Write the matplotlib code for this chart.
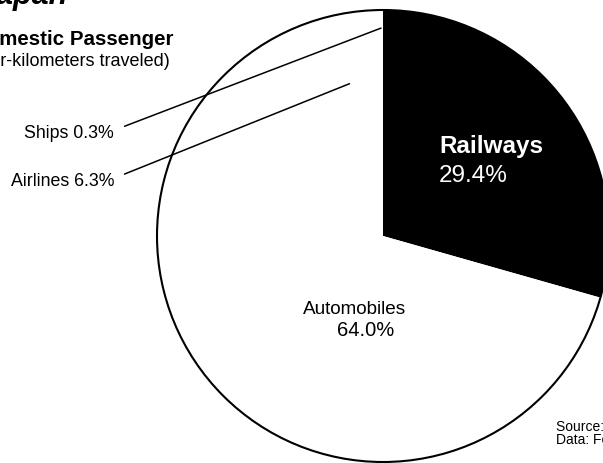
import matplotlib.pyplot as plt
import numpy as np

plt.rcParams['font.family'] = ['Liberation Sans', 'DejaVu Sans']

# modal share of domestic passenger transport, clockwise from 12 o'clock
modes = ['Railways', 'Automobiles', 'Airlines', 'Ships']
shares = [29.4, 64.0, 6.3, 0.3]
slice_colors = ['black', 'white', 'white', 'white']

title = 'Japan'
subtitle = 'Domestic Passenger'
unit_note = '(passenger-kilometers traveled)'
source_lines = ['Source: Ministry of Transport', 'Data: Foreign Press Center']

W, H = 603, 464
fig = plt.figure(figsize=(W / 100, H / 100), dpi=100)
ax = fig.add_axes([0, 0, 1, 1])

cx, cy, R = 383, H - 237, 226
wedges, _ = ax.pie(shares, colors=slice_colors, startangle=90, counterclock=False,
                   center=(cx, cy), radius=R, wedgeprops=dict(linewidth=0))
ax.add_patch(plt.Circle((cx, cy), R, fill=False, lw=1.5, color='black'))

ax.set_xlim(0, W)
ax.set_ylim(0, H)
ax.set_aspect('equal')
ax.axis('off')


def wedge_point(w, frac):
    ang = np.deg2rad((w.theta1 + w.theta2) / 2)
    return cx + frac * R * np.cos(ang), cy + frac * R * np.sin(ang)


# labels inside the pie
ax.text(439, H - 147, modes[0], color='white', fontsize=17.5, fontweight='bold',
        ha='left', va='center')
ax.text(439, H - 176, f'{shares[0]:.1f}%', color='white', fontsize=17.5,
        ha='left', va='center')
ax.text(303, H - 310, modes[1], fontsize=13.6, ha='left', va='center')
ax.text(337, H - 330, f'{shares[1]:.1f}%', fontsize=14.5, ha='left', va='center')

# leader-line labels for the small slices
for idx, ty, frac in [(3, 133, 0.92), (2, 181, 0.69)]:
    ax.annotate(f'{modes[idx]} {shares[idx]:.1f}%', xy=wedge_point(wedges[idx], frac),
                xytext=(114, H - ty), ha='right', va='center', fontsize=12.8,
                arrowprops=dict(arrowstyle='-', lw=1.1, color='black',
                                relpos=(1.0, 0.6), shrinkA=6, shrinkB=0))

# headings, cropped at the left edge like the scan
ax.text(-20, H - 4, title, fontsize=22, fontweight='bold', fontstyle='italic',
        ha='left', va='baseline')
ax.text(-28, H - 45, subtitle, fontsize=14.8, fontweight='bold', ha='left', va='baseline')
ax.text(-84, H - 66, unit_note, fontsize=13, ha='left', va='baseline')

ax.text(556, H - 427, source_lines[0], fontsize=10, ha='left', va='center')
ax.text(556, H - 440, source_lines[1], fontsize=10, ha='left', va='center')

fig.savefig('out.png', dpi=100)
